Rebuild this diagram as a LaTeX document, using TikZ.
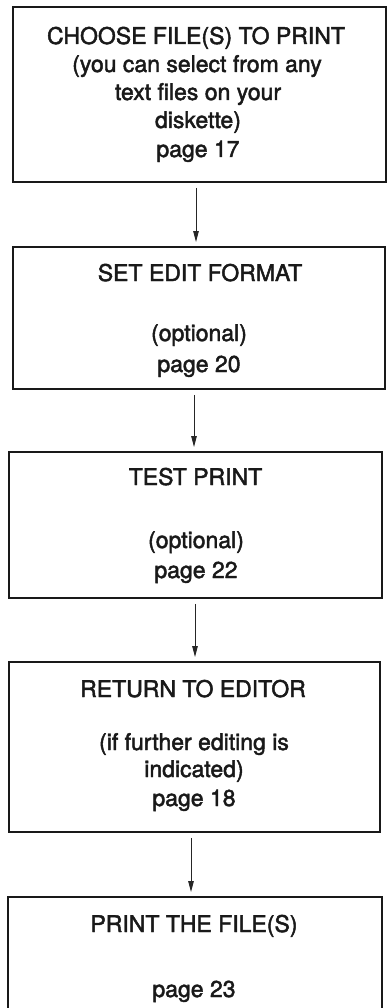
\documentclass[tikz,border=0pt]{standalone}
\usepackage{fontspec}
\newfontfamily\diafont{TeX Gyre Heros}[FakeBold=2]
\usetikzlibrary{arrows.meta}
\begin{document}
\begin{tikzpicture}[x=1pt,y=-1pt,
  box/.style={draw=black!90, line width=1.9pt, rectangle, inner sep=0pt},
  txt/.style={anchor=base, inner sep=0pt, font=\diafont\fontsize{23}{26}\selectfont, text=black!90},
  arr/.style={draw=black!85, line width=1pt, -{Triangle[length=11pt,width=5.5pt]}, shorten <=5pt, shorten >=4pt}]
\useasboundingbox (0,0) rectangle (390,1008);
% boxes
\node[box, minimum width=373pt, minimum height=175pt] (b1) at (199.5,94.5) {};
\node[box, minimum width=372pt, minimum height=142pt] (b2) at (199,318) {};
\node[box, minimum width=373pt, minimum height=146pt] (b3) at (195.5,525) {};
\node[box, minimum width=371pt, minimum height=170pt] (b4) at (194.5,747) {};
\node[box, minimum width=374pt, minimum height=112pt] (b5) at (195,953) {};
% texts
\node[txt] (t11) at (196,44) {CHOOSE FILE(S) TO PRINT};
\node[txt] (t12) at (197,72) {(you can select from any};
\node[txt] (t13) at (198,100) {text files on your};
\node[txt] (t14) at (198,128) {diskette)};
\node[txt] (t15) at (198,157) {page 17};
\node[txt] (t21) at (200,281) {SET EDIT FORMAT};
\node[txt] (t22) at (199,341) {(optional)};
\node[txt] (t23) at (199,372) {page 20};
\node[txt] (t31) at (195.5,485) {TEST PRINT};
\node[txt] (t32) at (196,548) {(optional)};
\node[txt] (t33) at (196,578) {page 22};
\node[txt] (t41) at (193,697) {RETURN TO EDITOR};
\node[txt] (t42) at (194,750) {(if further editing is};
\node[txt] (t43) at (194,777) {indicated)};
\node[txt] (t44) at (194,806) {page 18};
\node[txt] (t51) at (194,932) {PRINT THE FILE(S)};
\node[txt] (t52) at (194,997) {page 23};
% connectors
\coordinate (x1) at (196,0);
\coordinate (x2) at (194,0);
\coordinate (x3) at (195,0);
\coordinate (x4) at (191,0);
\draw[arr] (b1.south -| x1) -- (b2.north -| x1);
\draw[arr] (b2.south -| x2) -- (b3.north -| x2);
\draw[arr] (b3.south -| x3) -- (b4.north -| x3);
\draw[arr] (b4.south -| x4) -- (b5.north -| x4);
\end{tikzpicture}
\end{document}
